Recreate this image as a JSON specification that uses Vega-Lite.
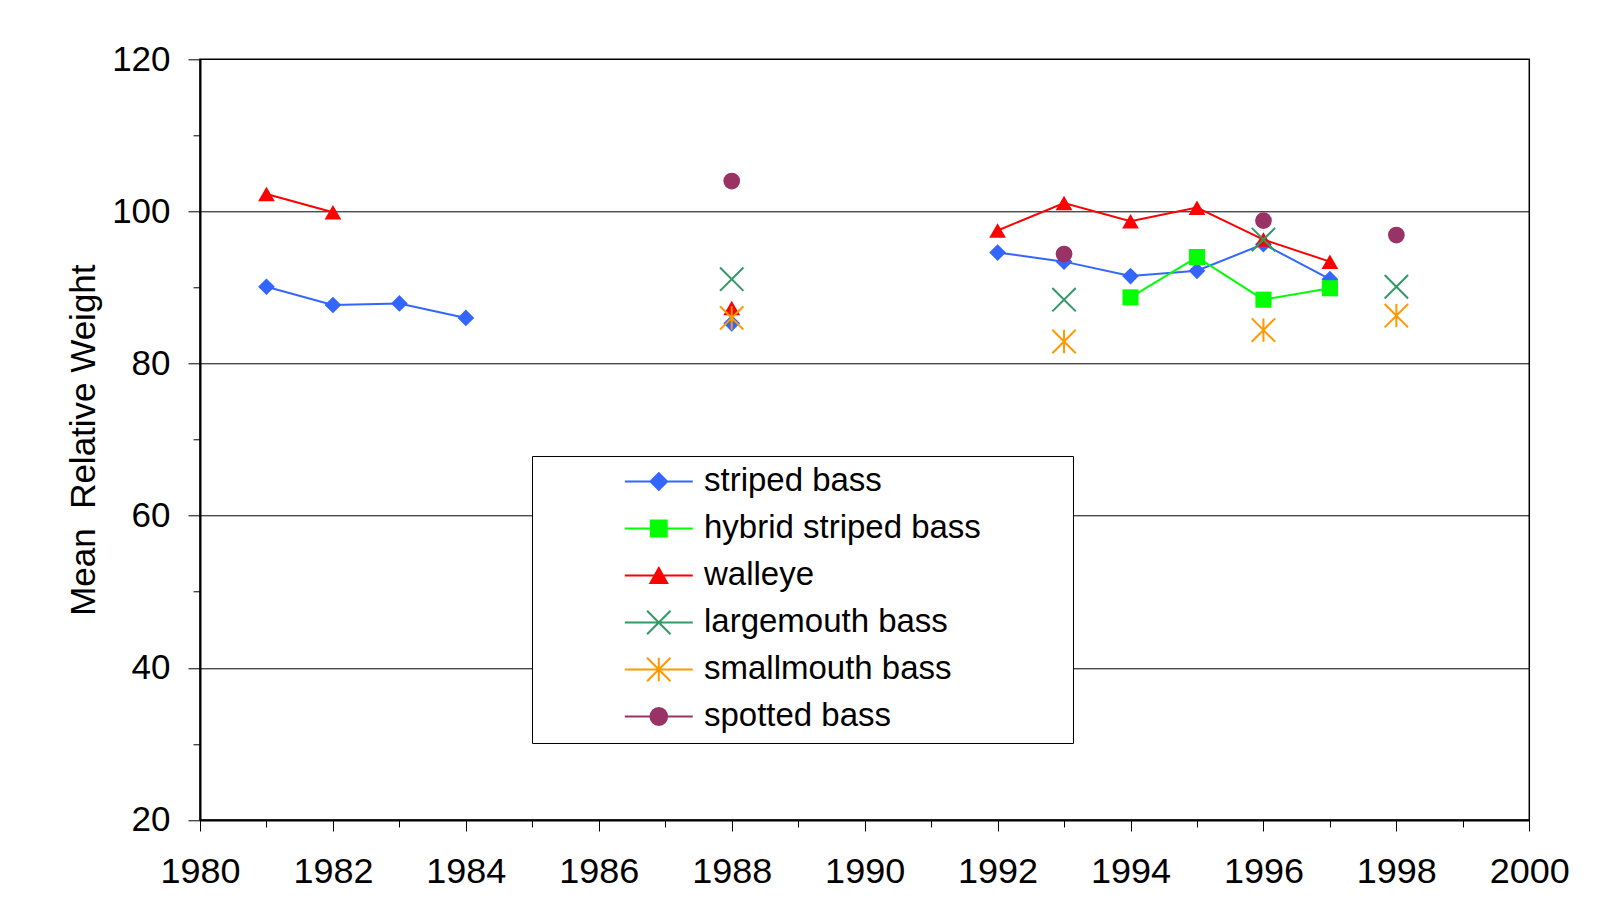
{
  "$schema": "https://vega.github.io/schema/vega-lite/v6.json",
  "width": 1329.3,
  "height": 760.7,
  "autosize": {"type": "none"},
  "padding": {"left": 200, "top": 59.3, "right": 84.7, "bottom": 100.7},
  "background": "#ffffff",
  "data": {
    "values": [
      {"year": 1981, "striped bass": 90.1, "hybrid striped bass": null, "walleye": 102.3, "largemouth bass": null, "smallmouth bass": null, "spotted bass": null},
      {"year": 1982, "striped bass": 87.7, "hybrid striped bass": null, "walleye": 99.9, "largemouth bass": null, "smallmouth bass": null, "spotted bass": null},
      {"year": 1983, "striped bass": 87.9, "hybrid striped bass": null, "walleye": null, "largemouth bass": null, "smallmouth bass": null, "spotted bass": null},
      {"year": 1984, "striped bass": 86.0, "hybrid striped bass": null, "walleye": null, "largemouth bass": null, "smallmouth bass": null, "spotted bass": null},
      {"year": 1985, "striped bass": null, "hybrid striped bass": null, "walleye": null, "largemouth bass": null, "smallmouth bass": null, "spotted bass": null},
      {"year": 1986, "striped bass": null, "hybrid striped bass": null, "walleye": null, "largemouth bass": null, "smallmouth bass": null, "spotted bass": null},
      {"year": 1987, "striped bass": null, "hybrid striped bass": null, "walleye": null, "largemouth bass": null, "smallmouth bass": null, "spotted bass": null},
      {"year": 1988, "striped bass": 85.3, "hybrid striped bass": null, "walleye": 87.3, "largemouth bass": 91.1, "smallmouth bass": 86.0, "spotted bass": 104.0},
      {"year": 1989, "striped bass": null, "hybrid striped bass": null, "walleye": null, "largemouth bass": null, "smallmouth bass": null, "spotted bass": null},
      {"year": 1990, "striped bass": null, "hybrid striped bass": null, "walleye": null, "largemouth bass": null, "smallmouth bass": null, "spotted bass": null},
      {"year": 1991, "striped bass": null, "hybrid striped bass": null, "walleye": null, "largemouth bass": null, "smallmouth bass": null, "spotted bass": null},
      {"year": 1992, "striped bass": 94.6, "hybrid striped bass": null, "walleye": 97.5, "largemouth bass": null, "smallmouth bass": null, "spotted bass": null},
      {"year": 1993, "striped bass": 93.4, "hybrid striped bass": null, "walleye": 101.1, "largemouth bass": 88.4, "smallmouth bass": 82.9, "spotted bass": 94.4},
      {"year": 1994, "striped bass": 91.5, "hybrid striped bass": 88.7, "walleye": 98.7, "largemouth bass": null, "smallmouth bass": null, "spotted bass": null},
      {"year": 1995, "striped bass": 92.2, "hybrid striped bass": 94.0, "walleye": 100.5, "largemouth bass": null, "smallmouth bass": null, "spotted bass": null},
      {"year": 1996, "striped bass": 95.7, "hybrid striped bass": 88.4, "walleye": 96.3, "largemouth bass": 96.3, "smallmouth bass": 84.4, "spotted bass": 98.8},
      {"year": 1997, "striped bass": 91.1, "hybrid striped bass": 89.9, "walleye": 93.4, "largemouth bass": null, "smallmouth bass": null, "spotted bass": null},
      {"year": 1998, "striped bass": null, "hybrid striped bass": null, "walleye": null, "largemouth bass": 90.1, "smallmouth bass": 86.3, "spotted bass": 96.9}
    ]
  },
  "transform": [
    {"fold": ["striped bass", "hybrid striped bass", "walleye", "largemouth bass", "smallmouth bass", "spotted bass"], "as": ["species", "value"]}
  ],
  "encoding": {
    "x": {
      "field": "year", "type": "quantitative",
      "scale": {"domain": [1980, 2000], "nice": false, "zero": false},
      "axis": {
        "title": null,
        "values": [1980,1981,1982,1983,1984,1985,1986,1987,1988,1989,1990,1991,1992,1993,1994,1995,1996,1997,1998,1999,2000],
        "format": "d",
        "labelExpr": "datum.value % 2 === 0 ? datum.label : ''",
        "labelFlush": false,
        "labelOverlap": false,
        "labelFontSize": 36,
        "tickSize": {"condition": {"test": "datum.value % 2 === 0", "value": 11}, "value": 7},
        "labelPadding": 24,
        "grid": false
      }
    },
    "y": {
      "field": "value", "type": "quantitative",
      "scale": {"domain": [20, 120], "nice": false, "zero": false},
      "axis": {
        "title": "Mean\u00a0 Relative Weight",
        "values": [20,30,40,50,60,70,80,90,100,110,120],
        "labelExpr": "datum.value % 20 === 0 ? datum.label : ''",
        "labelOverlap": false,
        "labelFontSize": 35,
        "tickSize": {"condition": {"test": "datum.value % 20 === 0", "value": 12}, "value": 7},
        "labelPadding": 18,
        "grid": true,
        "gridOpacity": {"condition": {"test": "datum.value % 20 === 0 && datum.value > 20 && datum.value < 120", "value": 1}, "value": 0},
        "titlePadding": 10
      }
    },
    "color": {
      "field": "species", "type": "nominal",
      "scale": {
        "domain": ["striped bass", "hybrid striped bass", "walleye", "largemouth bass", "smallmouth bass", "spotted bass"],
        "range": ["#3366FF", "#00FF00", "#FF0000", "#339966", "#FF9900", "#993366"]
      },
      "legend": {
        "title": null,
        "orient": "none",
        "legendX": 332,
        "legendY": 396.7,
        "padding": 9,
        "strokeColor": "#000000",
        "fillColor": "#ffffff",
        "symbolSize": 280,
        "symbolStrokeWidth": 2,
        "symbolOpacity": 1,
        "symbolOffset": 101.3,
        "labelOffset": 28.7,
        "rowPadding": 13,
        "labelFont": "Liberation Sans",
        "labelFontSize": 33,
        "labelColor": "#000000",
        "labelLimit": 1000,
        "labelExpr": "datum.label + '\u00a0\u00a0\u00a0\u00a0\u00a0\u00a0\u00a0\u00a0\u00a0\u200b'"
      }
    }
  },
  "layer": [
    {"mark": {"type": "line", "strokeWidth": 2}},
    {
      "transform": [{"filter": {"field": "species", "equal": "striped bass"}}],
      "mark": {"type": "point", "filled": true, "size": 280, "opacity": 1, "shape": "diamond"}
    },
    {
      "transform": [{"filter": {"field": "species", "equal": "hybrid striped bass"}}],
      "mark": {"type": "point", "filled": true, "size": 260, "opacity": 1, "shape": "square"}
    },
    {
      "transform": [{"filter": {"field": "species", "equal": "walleye"}}],
      "mark": {"type": "point", "filled": true, "size": 280, "opacity": 1, "shape": "triangle-up"}
    },
    {
      "transform": [{"filter": {"field": "species", "equal": "largemouth bass"}}],
      "mark": {"type": "point", "filled": false, "size": 280, "strokeWidth": 2, "opacity": 1, "shape": "M-1.4,-1.4L1.4,1.4M-1.4,1.4L1.4,-1.4"}
    },
    {
      "transform": [{"filter": {"field": "species", "equal": "smallmouth bass"}}],
      "mark": {"type": "point", "filled": false, "size": 280, "strokeWidth": 2, "opacity": 1, "shape": "M-1.4,-1.4L1.4,1.4M-1.4,1.4L1.4,-1.4M0,-1.4L0,1.4"}
    },
    {
      "transform": [{"filter": {"field": "species", "equal": "spotted bass"}}],
      "mark": {"type": "point", "filled": true, "size": 280, "opacity": 1, "shape": "circle"}
    },
    {
      "mark": {"type": "point", "filled": true, "size": 280, "opacity": 0},
      "encoding": {
        "shape": {
          "field": "species", "type": "nominal",
          "scale": {
            "domain": ["striped bass", "hybrid striped bass", "walleye", "largemouth bass", "smallmouth bass", "spotted bass"],
            "range": [
              "M-4.06,0L4.06,0M0,-1L1,0L0,1L-1,0Z",
              "M-4.06,0L4.06,0M-0.95,-0.95L0.95,-0.95L0.95,0.95L-0.95,0.95Z",
              "M-4.06,0L4.06,0M0,-0.9L1,0.9L-1,0.9Z",
              "M-4.06,0L4.06,0M-1.4,-1.4L1.4,1.4M-1.4,1.4L1.4,-1.4",
              "M-4.06,0L4.06,0M-1.4,-1.4L1.4,1.4M-1.4,1.4L1.4,-1.4M0,-1.4L0,1.4",
              "M-4.06,0L4.06,0M1,0L0.924,0.383L0.707,0.707L0.383,0.924L0,1L-0.383,0.924L-0.707,0.707L-0.924,0.383L-1,0L-0.924,-0.383L-0.707,-0.707L-0.383,-0.924L0,-1L0.383,-0.924L0.707,-0.707L0.924,-0.383Z"
            ]
          }
        }
      }
    },
    {
      "mark": {"type": "point", "filled": false, "size": 280, "strokeWidth": 2, "opacity": 0},
      "encoding": {
        "shape": {"field": "species", "type": "nominal"}
      }
    }
  ],
  "config": {
    "font": "Liberation Sans",
    "view": {"stroke": "#000000", "strokeWidth": 1.5},
    "axis": {
      "domainColor": "#000000",
      "domainWidth": 2,
      "tickColor": "#000000",
      "tickWidth": 1,
      "gridColor": "#000000",
      "gridWidth": 1,
      "labelFont": "Liberation Sans",
      "labelColor": "#000000",
      "titleFont": "Liberation Sans",
      "titleFontSize": 35,
      "titleFontWeight": "normal",
      "titleColor": "#000000"
    }
  }
}
